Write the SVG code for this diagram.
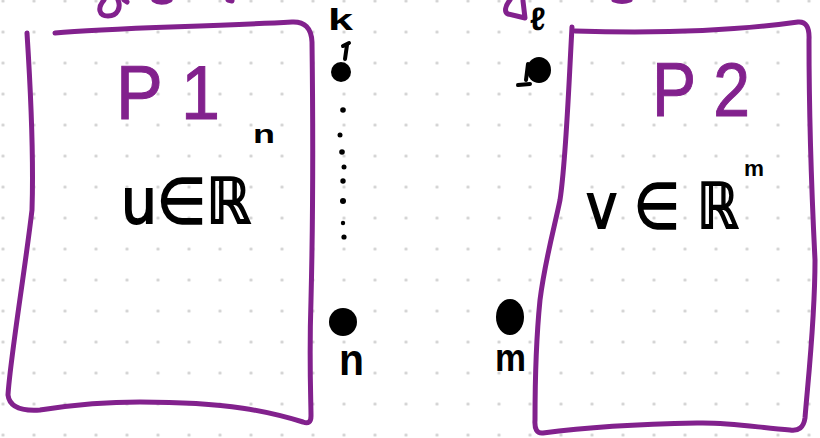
<svg xmlns="http://www.w3.org/2000/svg" width="820" height="438" viewBox="0 0 820 438">
<defs>
<pattern id="grid" patternUnits="userSpaceOnUse" x="-12.5" y="-14.5" width="31" height="31">
<circle cx="15.5" cy="15.5" r="1.6" fill="#cfcfcf"/>
</pattern>
</defs>
<style>
.box{fill:none;stroke:#82218d;stroke-width:5;stroke-linecap:round;stroke-linejoin:round}
.pen{fill:none;stroke:#000;stroke-width:4;stroke-linecap:round;stroke-linejoin:round}
.ptitle{font-family:"Liberation Sans",sans-serif;font-size:76px;fill:#82218d;stroke:#82218d;stroke-width:1}
.math{font-family:"DejaVu Sans",sans-serif;font-size:63px;fill:#000;stroke:#000;stroke-width:1.8}
.lbl{font-family:"Liberation Sans","DejaVu Sans",sans-serif;font-weight:bold;fill:#000}
.dot{fill:#000}
</style>
<rect width="820" height="438" fill="#fff"/>
<rect width="820" height="438" fill="url(#grid)"/>

<g id="fragments">
<path class="box" d="M104,0 C97,8 99,16 108,16 C118,16 121,7 118,0"/>
<path class="box" d="M124,0 L127,2"/>
<path class="box" d="M154,0 C158,3 165,3 170,0"/>
<path class="box" d="M228,0 L232,1"/>
<path class="box" d="M510,0 C505,6 504,12 508,14 L525,18 L523,1"/>
<path class="box" d="M614,0 C619,2 625,2 630,0"/>
<text class="lbl" x="530" y="30" font-size="32" font-family="DejaVu Sans">ℓ</text>
</g>

<g id="p1">
<path class="box" d="M55,33 C110,28 200,27 292,22 Q311,21 312,42 C313,120 313,220 311,300 C309,360 311,400 311,416 Q311,425 303,422 C270,412 230,402 140,402 C90,402 60,407 40,410 Q10,412 8,395 C10,360 25,270 32,210 C34,150 30,80 27,33"/>
<text class="ptitle" x="116" y="119" textLength="104" lengthAdjust="spacingAndGlyphs">P 1</text>
<text class="math" transform="translate(121,223) scale(0.9,1)">u∈ℝ</text>
<text class="lbl" x="253" y="143" font-size="26" textLength="22" lengthAdjust="spacingAndGlyphs">n</text>
</g>

<g id="p2">
<path class="box" d="M575,31 C640,33 720,33 798,22 Q810,21 809,40 C809,120 812,200 815,260 C815,320 808,380 805,418 Q803,432 790,430 C760,428 730,422 697,423 C640,424 580,428 543,433 Q534,434 535,420 C535,380 537,330 540,300 C545,260 555,225 560,200 C566,160 568,100 572,27"/>
<text class="ptitle" x="652" y="116" textLength="98" lengthAdjust="spacingAndGlyphs">P 2</text>
<text class="math" transform="translate(586,228) scale(0.84,1)">v ∈ ℝ</text>
<text class="lbl" x="744" y="176" font-size="22" textLength="20" lengthAdjust="spacingAndGlyphs">m</text>
</g>

<g id="left-points">
<text class="lbl" x="328" y="30" font-size="30" textLength="25" lengthAdjust="spacingAndGlyphs">k</text>
<path class="pen" d="M343,46 L349,43 M347,45 L345,59"/>
<ellipse class="dot" cx="341" cy="72" rx="10" ry="10"/>
<circle class="dot" cx="343" cy="110" r="2.8"/>
<circle class="dot" cx="340" cy="135" r="2.5"/>
<circle class="dot" cx="342" cy="152" r="2.8"/>
<circle class="dot" cx="344" cy="167" r="2.5"/>
<circle class="dot" cx="343" cy="181" r="2.7"/>
<circle class="dot" cx="343" cy="201" r="3"/>
<circle class="dot" cx="343" cy="223" r="2.2"/>
<circle class="dot" cx="344" cy="237" r="2.6"/>
<ellipse class="dot" cx="343" cy="322" rx="14" ry="14"/>
<text class="lbl" x="339" y="375" font-size="44" textLength="25" lengthAdjust="spacingAndGlyphs">n</text>
</g>

<g id="right-points">
<ellipse class="dot" cx="539" cy="70" rx="12" ry="13"/>
<path class="pen" d="M528,64 L526,80 M518,85 L530,84"/>
<ellipse class="dot" cx="510" cy="317" rx="14" ry="18"/>
<text class="lbl" x="495" y="371" font-size="38" textLength="31" lengthAdjust="spacingAndGlyphs">m</text>
</g>
</svg>
